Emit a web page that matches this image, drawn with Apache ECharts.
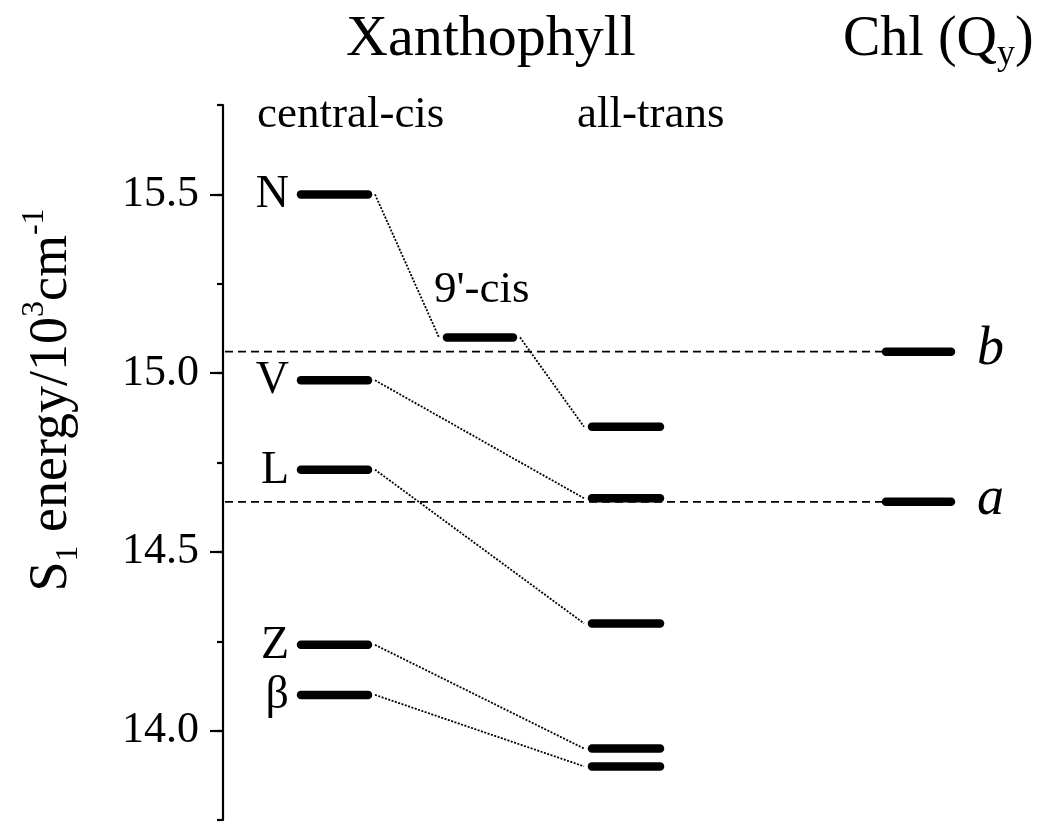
<!DOCTYPE html>
<html>
<head>
<meta charset="utf-8">
<script src="https://cdn.jsdelivr.net/npm/echarts@6/dist/echarts.min.js"></script>
<style>
html,body{margin:0;padding:0;background:#fff;}
#chart{width:1050px;height:839px;}
</style>
</head>
<body>
<div id="chart"></div>
<script>
// ---- data ----
const centralCisNames = ['N', 'V', 'L', 'Z', 'β'];
const centralCisEnergy = [15.50, 14.98, 14.73, 14.24, 14.10];
const nineCisEnergy = [15.10];
const allTransEnergy = [14.85, 14.65, 14.30, 13.95, 13.90];
const chlNames = ['b', 'a'];
const chlEnergy = [15.06, 14.64];
const yTickValues = [14.0, 14.5, 15.0, 15.5];
const yMin = 13.75, yMax = 15.75;
// connections: [fromColumn, fromIndex, toColumn, toIndex]
const links = [
  ['cis', 0, 'nine', 0],
  ['nine', 0, 'trans', 0],
  ['cis', 1, 'trans', 1],
  ['cis', 2, 'trans', 2],
  ['cis', 3, 'trans', 3],
  ['cis', 4, 'trans', 4]
];

// ---- layout (x-axis units = px from grid left) ----
const COLS = { cis: [74, 149], nine: [220, 294], trans: [365, 441], chl: [659, 732] };
const energies = { cis: centralCisEnergy, nine: nineCisEnergy, trans: allTransEnergy, chl: chlEnergy };
const FONT = '"Liberation Serif", "Times New Roman", serif';

const levelItems = [];
['cis', 'nine', 'trans', 'chl'].forEach(c => {
  energies[c].forEach((e, i) => {
    let name = '', side = 'left';
    if (c === 'cis') name = centralCisNames[i];
    if (c === 'chl') { name = chlNames[i]; side = 'right'; }
    levelItems.push({ value: [COLS[c][0], COLS[c][1], e], name: name, side: side, col: c });
  });
});

const linkData = links.map(l => [COLS[l[0]][1], energies[l[0]][l[1]], COLS[l[2]][0], energies[l[2]][l[3]]]);
const dashData = chlEnergy.map(e => [0, COLS.chl[0], e]);

const chart = echarts.init(document.getElementById('chart'));
const option = {
  animation: false,
  grid: { left: 223, right: 0, top: 105, bottom: 19 },
  xAxis: { type: 'value', min: 0, max: 827, show: false },
  yAxis: [
    {
      type: 'value', min: yMin, max: yMax, interval: 0.25,
      axisLine: { show: true, lineStyle: { color: '#000', width: 2.2 } },
      axisTick: { show: true, length: 13, lineStyle: { color: '#000', width: 2.2 }, customValues: yTickValues },
      axisLabel: { show: true, customValues: yTickValues, margin: 24, color: '#000', fontFamily: FONT, fontSize: 44,
        formatter: v => v.toFixed(1) },
      splitLine: { show: false }
    },
    {
      type: 'value', min: yMin, max: yMax, interval: 0.25, position: 'left', offset: 0,
      axisLine: { show: false },
      axisTick: { show: true, length: 6, lineStyle: { color: '#000', width: 2.2 } },
      axisLabel: { show: false },
      splitLine: { show: false }
    }
  ],
  series: [
    {
      type: 'custom', name: 'dashed', data: dashData, silent: true, z: 1,
      renderItem: (params, api) => {
        const p0 = api.coord([api.value(0), api.value(2)]);
        const p1 = api.coord([api.value(1), api.value(2)]);
        return { type: 'line', shape: { x1: p0[0] + 2, y1: p0[1], x2: p1[0], y2: p1[1] },
          style: { stroke: '#000', lineWidth: 1.7, lineDash: [8, 5] } };
      }
    },
    {
      type: 'custom', name: 'links', data: linkData, silent: true, z: 2,
      renderItem: (params, api) => {
        const p0 = api.coord([api.value(0), api.value(1)]);
        const p1 = api.coord([api.value(2), api.value(3)]);
        return { type: 'line', shape: { x1: p0[0] + 3, y1: p0[1], x2: p1[0] - 4, y2: p1[1] },
          style: { stroke: '#000', lineWidth: 1.8, lineDash: [2, 1.5] } };
      }
    },
    {
      type: 'custom', name: 'levels', data: levelItems.map(d => d.value), silent: true, z: 3,
      renderItem: (params, api) => {
        const item = levelItems[params.dataIndex];
        const p0 = api.coord([api.value(0), api.value(2)]);
        const p1 = api.coord([api.value(1), api.value(2)]);
        const children = [{ type: 'line', shape: { x1: p0[0] + 4, y1: p0[1], x2: p1[0] - 4, y2: p1[1] },
          style: { stroke: '#000', lineWidth: 8.5, lineCap: 'round' } }];
        if (item.name) {
          if (item.side === 'left') {
            children.push({ type: 'text', style: { text: item.name, x: p0[0] - 8, y: p0[1] + 1,
              align: 'right', verticalAlign: 'middle', font: '46px ' + FONT, fill: '#000' } });
          } else {
            children.push({ type: 'text', style: { text: item.name, x: p1[0] + 22, y: p1[1] - 2,
              align: 'left', verticalAlign: 'middle', font: 'italic 54px ' + FONT, fill: '#000' } });
          }
        }
        return { type: 'group', children: children };
      }
    }
  ],
  graphic: [
    { type: 'text', x: 491, y: 40, style: { text: 'Xanthophyll', align: 'center', verticalAlign: 'middle', font: '58px ' + FONT, fill: '#000' } },
    { type: 'text', x: 843, y: 40, style: { text: '{m|Chl (Q}{s|y}{m|)}', align: 'left', verticalAlign: 'middle',
      rich: { m: { fontFamily: FONT, fontSize: 56, lineHeight: 66, color: '#000' },
              s: { fontFamily: FONT, fontSize: 36, lineHeight: 36, verticalAlign: 'bottom', color: '#000' } } } },
    { type: 'text', x: 257, y: 115, style: { text: 'central-cis', align: 'left', verticalAlign: 'middle', font: '45px ' + FONT, fill: '#000' } },
    { type: 'text', x: 577, y: 115, style: { text: 'all-trans', align: 'left', verticalAlign: 'middle', font: '45px ' + FONT, fill: '#000' } },
    { type: 'text', x: 434, y: 290, style: { text: "9'-cis", align: 'left', verticalAlign: 'middle', font: '45px ' + FONT, fill: '#000' } },
    { type: 'text', x: 52, y: 400, rotation: Math.PI / 2,
      style: { text: '{m|S}{sb|1}{m| energy/10}{sp|3}{m|cm}{sp|-1}', align: 'center', verticalAlign: 'middle',
        rich: {
          m: { fontFamily: FONT, fontSize: 54, lineHeight: 66, color: '#000' },
          sb: { fontFamily: FONT, fontSize: 32, lineHeight: 30, verticalAlign: 'bottom', color: '#000' },
          sp: { fontFamily: FONT, fontSize: 32, lineHeight: 30, verticalAlign: 'top', color: '#000' }
        } } }
  ]
};
chart.setOption(option);
</script>
</body>
</html>
